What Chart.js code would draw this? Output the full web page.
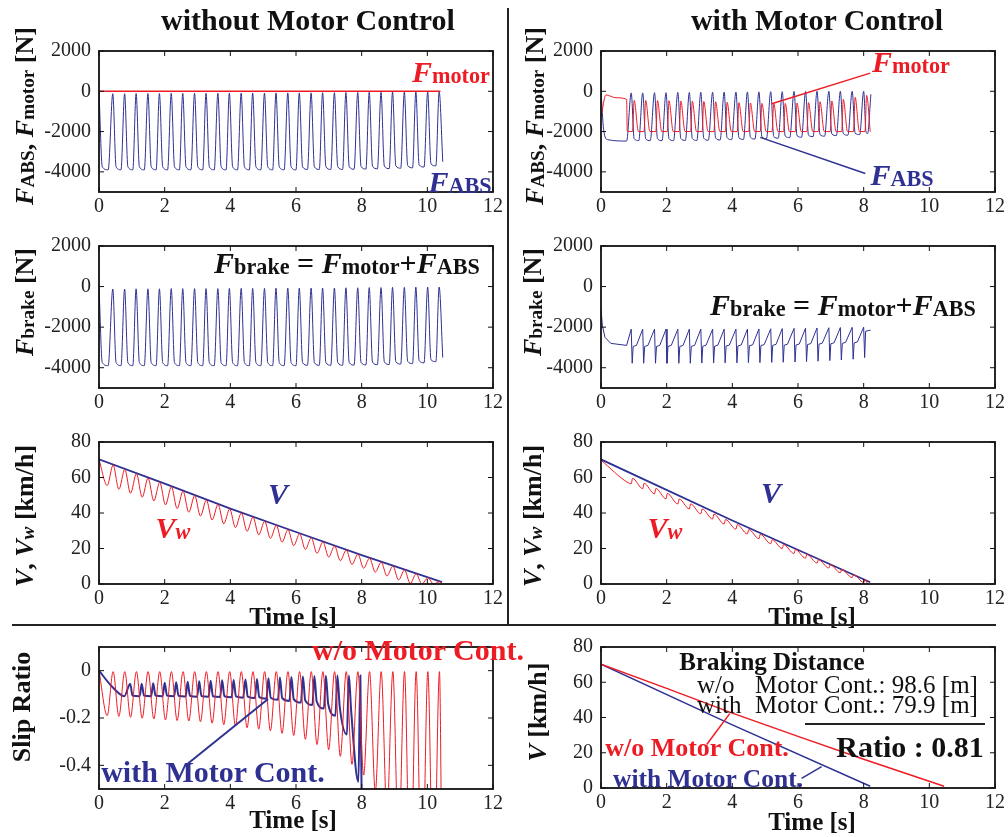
<!DOCTYPE html>
<html>
<head>
<meta charset="utf-8">
<script src="https://cdn.jsdelivr.net/npm/chart.js@4.4.1/dist/chart.umd.min.js"></script>
<style>
body { margin: 0; width: 1008px; height: 837px; position: relative; overflow: hidden; background: #fff;
       font-family: "Liberation Serif", "Times New Roman", serif; color: #111; }
canvas { position: absolute; }
.t { position: absolute; white-space: nowrap; font-weight: bold; line-height: 1; z-index: 2; }
.n { font-weight: normal; }
.c { transform: translate(-50%, -50%); }
.r { transform: translate(-50%, -50%) rotate(-90deg); }
.t i { font-style: italic; }
.t sub { font-size: 0.74em; vertical-align: -0.04em; }
.red { color: #ed1c24; }
.blue { color: #2e3192; }
.rule { position: absolute; background: #222; z-index: 3; }
</style>
</head>
<body>

<!-- column headings and separators -->
<div class="t c" style="left:308px;top:20px;font-size:30px">without Motor Control</div>
<div class="t c" style="left:817px;top:20px;font-size:30px">with Motor Control</div>
<div class="rule" style="left:507px;top:8px;width:2px;height:618px"></div>
<div class="rule" style="left:12px;top:624px;width:984px;height:2px"></div>

<!-- y axis titles -->
<div class="t r" style="left:25px;top:116px;font-size:26px"><i>F</i><sub>ABS</sub>, <i>F</i><sub>motor</sub> [N]</div>
<div class="t r" style="left:535px;top:116px;font-size:26px"><i>F</i><sub>ABS</sub>, <i>F</i><sub>motor</sub> [N]</div>
<div class="t r" style="left:25px;top:302px;font-size:26px"><i>F</i><sub>brake</sub> [N]</div>
<div class="t r" style="left:533px;top:302px;font-size:26px"><i>F</i><sub>brake</sub> [N]</div>
<div class="t r" style="left:25px;top:516px;font-size:26px"><i>V</i>, <i>V<sub>w</sub></i> [km/h]</div>
<div class="t r" style="left:533px;top:516px;font-size:26px"><i>V</i>, <i>V<sub>w</sub></i> [km/h]</div>
<div class="t r" style="left:22px;top:707px;font-size:26px">Slip Ratio</div>
<div class="t r" style="left:538px;top:712px;font-size:26px"><i>V</i> [km/h]</div>

<!-- x axis titles -->
<div class="t c" style="left:293px;top:616px;font-size:25px">Time [s]</div>
<div class="t c" style="left:812px;top:616px;font-size:25px">Time [s]</div>
<div class="t c" style="left:293px;top:819px;font-size:25px">Time [s]</div>
<div class="t c" style="left:812px;top:821px;font-size:25px">Time [s]</div>

<!-- force panels -->
<div class="t c red" style="left:451px;top:72px;font-size:30px"><i>F</i><sub>motor</sub></div>
<div class="t c blue" style="left:460px;top:182px;font-size:30px"><i>F</i><sub>ABS</sub></div>
<div class="t c red" style="left:911px;top:62px;font-size:30px"><i>F</i><sub>motor</sub></div>
<div class="t c blue" style="left:902px;top:175px;font-size:30px"><i>F</i><sub>ABS</sub></div>
<div class="t c" style="left:347px;top:263px;font-size:30px"><i>F</i><sub>brake</sub> = <i>F</i><sub>motor</sub>+<i>F</i><sub>ABS</sub></div>
<div class="t c" style="left:843px;top:305px;font-size:30px"><i>F</i><sub>brake</sub> = <i>F</i><sub>motor</sub>+<i>F</i><sub>ABS</sub></div>

<!-- speed panels -->
<div class="t c blue" style="left:278px;top:494px;font-size:30px"><i>V</i></div>
<div class="t c red" style="left:173px;top:528px;font-size:30px"><i>V<sub>w</sub></i></div>
<div class="t c blue" style="left:771px;top:493px;font-size:30px"><i>V</i></div>
<div class="t c red" style="left:665px;top:528px;font-size:30px"><i>V<sub>w</sub></i></div>

<!-- slip panel -->
<div class="t c red" style="left:418px;top:650px;font-size:30px">w/o Motor Cont.</div>
<div class="t c blue" style="left:213px;top:772px;font-size:30px">with Motor Cont.</div>

<!-- braking distance panel -->
<div class="t c" style="left:772px;top:661px;font-size:25px">Braking Distance</div>
<div class="t n" style="left:697px;top:672px;font-size:25px">w/o</div>
<div class="t n" style="left:755px;top:672px;font-size:25px">Motor Cont.: 98.6 [m]</div>
<div class="t n" style="left:697px;top:692px;font-size:25px">with</div>
<div class="t n" style="left:755px;top:692px;font-size:25px">Motor Cont.: 79.9 [m]</div>
<div class="rule" style="left:805px;top:723px;width:180px;height:2px"></div>
<div class="t c" style="left:910px;top:747px;font-size:30px">Ratio : 0.81</div>
<div class="t c red" style="left:697px;top:748px;font-size:26px">w/o Motor Cont.</div>
<div class="t c blue" style="left:708px;top:779px;font-size:25.5px">with Motor Cont.</div>

<script>
// ---- axes ----
const xTicks = [0, 2, 4, 6, 8, 10, 12];
const forceTicks = [-4000, -2000, 0, 2000];
const speedTicks = [0, 20, 40, 60, 80];
const slipTicks = [-0.4, -0.2, 0];

// ---- without motor control ----
// ABS force [N] (equals brake force, motor force is zero)
const tAbs0 = [0, 0.10, 0.28,
  0.42, 0.52, 0.67, 0.78, 0.88, 1.03, 1.13, 1.23, 1.38, 1.49, 1.59, 1.74,
  1.84, 1.94, 2.09, 2.20, 2.30, 2.45, 2.55, 2.65, 2.80, 2.91, 3.01, 3.16,
  3.26, 3.36, 3.51, 3.62, 3.72, 3.87, 3.97, 4.07, 4.22, 4.33, 4.43, 4.58,
  4.68, 4.78, 4.93, 5.04, 5.14, 5.29, 5.39, 5.49, 5.64, 5.75, 5.85, 6.00,
  6.10, 6.20, 6.35, 6.46, 6.56, 6.71, 6.81, 6.91, 7.06, 7.17, 7.27, 7.42,
  7.52, 7.62, 7.77, 7.88, 7.98, 8.13, 8.23, 8.33, 8.48, 8.59, 8.69, 8.84,
  8.94, 9.04, 9.19, 9.30, 9.40, 9.55, 9.65, 9.75, 9.90, 10.01, 10.11, 10.26,
  10.36, 10.47];
const fAbs0 = [0, -3750, -3900,
  -120, -3750, -3900, -120, -3750, -3900, -110, -3750, -3900, -110, -3750, -3900,
  -110, -3750, -3900, -100, -3750, -3900, -100, -3750, -3900, -100, -3750, -3900,
  -100, -3750, -3900, -100, -3750, -3900, -90, -3750, -3900, -90, -3750, -3900,
  -90, -3750, -3900, -90, -3750, -3900, -80, -3750, -3900, -80, -3750, -3900,
  -80, -3750, -3880, -80, -3750, -3880, -70, -3740, -3880, -70, -3740, -3880,
  -60, -3740, -3870, -60, -3730, -3860, -50, -3720, -3850, -50, -3710, -3840,
  -40, -3700, -3820, -40, -3680, -3800, -30, -3650, -3760, -30, -3600, -3700,
  -20, -3500];
const tMot0 = [0, 10.40];
const fMot0 = [0, 0];

// vehicle speed and wheel speed [km/h]
const tV0 = [0, 2, 4, 6, 8, 10.45];
const v0 = [70.2, 56.5, 42.5, 29.3, 16.3, 1.0];
const tWheel0 = [0, 0.25, 0.43, 0.605, 0.785, 0.96, 1.14, 1.315, 1.495, 1.67, 1.85,
  2.025, 2.205, 2.38, 2.56, 2.735, 2.915, 3.09, 3.27, 3.445, 3.625, 3.80, 3.98,
  4.155, 4.335, 4.51, 4.69, 4.865, 5.045, 5.22, 5.40, 5.575, 5.755, 5.93, 6.11,
  6.285, 6.465, 6.64, 6.82, 6.995, 7.175, 7.35, 7.53, 7.705, 7.885, 8.06, 8.24,
  8.415, 8.595, 8.77, 8.95, 9.125, 9.305, 9.48, 9.66, 9.835, 10.015, 10.19, 10.37, 10.45];
const vw0 = [70.2, 55.5, 67.0, 53.3, 64.5, 51.1, 62.1, 48.9, 59.7, 46.8, 57.2,
  44.6, 54.8, 42.5, 52.3, 40.4, 49.8, 38.3, 47.3, 36.1, 44.8, 33.9, 42.3,
  31.8, 40.0, 29.7, 37.7, 27.7, 35.3, 25.7, 33.0, 23.6, 30.6, 21.6, 28.3,
  19.5, 26.0, 17.3, 23.7, 15.2, 21.4, 13.1, 19.1, 11.0, 16.8, 8.9, 14.5,
  6.7, 12.3, 4.5, 10.1, 2.3, 7.9, 0.3, 5.7, 0, 3.5, 0, 1.3, 0.3];
const slip0 = [0, -0.19, -0.004, -0.193, -0.004, -0.197, -0.004, -0.201, -0.004, -0.204, -0.004,
  -0.208, -0.004, -0.211, -0.004, -0.213, -0.004, -0.216, -0.004, -0.222, -0.004, -0.228, -0.004,
  -0.233, -0.004, -0.241, -0.004, -0.247, -0.004, -0.254, -0.004, -0.265, -0.004, -0.274, -0.004,
  -0.29, -0.004, -0.312, -0.004, -0.334, -0.004, -0.362, -0.004, -0.396, -0.004, -0.441, -0.004,
  -0.512, -0.004, -0.609, -0.004, -0.753, -0.004, -0.958, -0.004, -1, -0.004, -1, -0.004, -1];

// ---- with motor control ----
const tAbs1 = [0, 0.08, 0.20, 0.78,
  0.92, 1.01, 1.15, 1.27, 1.36, 1.50, 1.63, 1.72, 1.86, 1.98, 2.07, 2.21,
  2.34, 2.43, 2.57, 2.69, 2.78, 2.92, 3.04, 3.13, 3.27, 3.40, 3.49, 3.63,
  3.75, 3.84, 3.98, 4.11, 4.20, 4.34, 4.46, 4.55, 4.69, 4.81, 4.90, 5.04,
  5.17, 5.26, 5.40, 5.52, 5.61, 5.75, 5.88, 5.97, 6.11, 6.23, 6.32, 6.46,
  6.58, 6.67, 6.81, 6.94, 7.03, 7.17, 7.29, 7.38, 7.52, 7.65, 7.74, 7.88,
  8.00, 8.07, 8.12, 8.22];
const fAbs1 = [0, -1900, -2400, -2470,
  -80, -2350, -2450, -80, -2350, -2450, -70, -2350, -2450, -70, -2350, -2450,
  -60, -2340, -2440, -60, -2340, -2440, -50, -2330, -2430, -50, -2320, -2420,
  -40, -2300, -2400, -40, -2300, -2390, -30, -2280, -2370, -30, -2260, -2350,
  -20, -2240, -2330, -20, -2220, -2300, -10, -2200, -2280, -10, -2180, -2250,
  0, -2150, -2230, 0, -2120, -2200, 0, -2100, -2180, 0, -2080, -2150,
  0, -2000, -2100, -150];
const tMot1 = [0, 0.15, 0.45, 0.78, 0.80,
  0.96, 1.01, 1.14, 1.31, 1.36, 1.49, 1.67, 1.72, 1.85, 2.02, 2.07, 2.20,
  2.38, 2.43, 2.56, 2.73, 2.78, 2.91, 3.08, 3.13, 3.26, 3.44, 3.49, 3.62,
  3.79, 3.84, 3.97, 4.15, 4.20, 4.33, 4.50, 4.55, 4.68, 4.85, 4.90, 5.03,
  5.21, 5.26, 5.39, 5.56, 5.61, 5.74, 5.92, 5.97, 6.10, 6.27, 6.32, 6.45,
  6.62, 6.67, 6.80, 6.98, 7.03, 7.16, 7.33, 7.38, 7.51, 7.69, 7.74, 7.87,
  8.04, 8.09, 8.20];
const fMot1 = [-1300, -180, -320, -400, -1980,
  -2000, -450, -2000, -2000, -450, -2000, -2000, -460, -2000, -2000, -470, -2000,
  -2000, -480, -2000, -2000, -490, -2000, -2000, -500, -2000, -2000, -520, -2000,
  -2000, -540, -2000, -2000, -560, -2000, -2000, -580, -2000, -2000, -600, -2000,
  -2000, -600, -2000, -2000, -600, -2000, -2000, -580, -2000, -2000, -560, -2000,
  -2000, -520, -2000, -2000, -480, -2000, -2000, -400, -2000, -2000, -300, -2000,
  -2000, -200, -2000];
const tBrk1 = [0, 0.04, 0.12, 0.30, 0.78,
  0.92, 0.95, 0.98, 1.08, 1.27, 1.30, 1.33, 1.43, 1.63, 1.66, 1.69, 1.79,
  1.98, 2.01, 2.04, 2.14, 2.34, 2.37, 2.40, 2.50, 2.69, 2.72, 2.75, 2.85,
  3.04, 3.07, 3.10, 3.20, 3.40, 3.43, 3.46, 3.56, 3.75, 3.78, 3.81, 3.91,
  4.11, 4.14, 4.17, 4.27, 4.46, 4.49, 4.52, 4.62, 4.81, 4.84, 4.87, 4.97,
  5.17, 5.20, 5.23, 5.33, 5.52, 5.55, 5.58, 5.68, 5.88, 5.91, 5.94, 6.04,
  6.23, 6.26, 6.29, 6.39, 6.58, 6.61, 6.64, 6.74, 6.94, 6.97, 7.00, 7.10,
  7.29, 7.32, 7.35, 7.45, 7.65, 7.68, 7.71, 7.81, 8.00, 8.03, 8.06, 8.21];
const fBrk1 = [-1100, -1900, -2500, -2800, -2900,
  -2100, -3780, -2950, -2900, -2100, -3780, -2950, -2900, -2100, -3780, -2950, -2900,
  -2100, -3780, -2950, -2900, -2100, -3780, -2950, -2900, -2100, -3780, -2950, -2900,
  -2100, -3770, -2940, -2890, -2100, -3770, -2940, -2890, -2100, -3760, -2930, -2880,
  -2100, -3760, -2930, -2880, -2100, -3750, -2920, -2870, -2090, -3750, -2910, -2860,
  -2080, -3740, -2900, -2850, -2070, -3730, -2890, -2840, -2060, -3720, -2880, -2830,
  -2050, -3700, -2860, -2810, -2040, -3680, -2840, -2790, -2030, -3650, -2820, -2770,
  -2020, -3620, -2800, -2750, -2010, -3580, -2780, -2730, -2000, -3500, -2200, -2150];

const tV1 = [0, 4, 8.2];
const v1 = [70.2, 35.8, 1.0];
const tWheel1 = [0, 0.83, 0.92, 0.96, 1.27, 1.31, 1.63, 1.67, 1.98, 2.02, 2.34, 2.38,
  2.69, 2.73, 3.04, 3.08, 3.40, 3.44, 3.75, 3.79, 4.11, 4.15, 4.46, 4.50, 4.81, 4.85,
  5.17, 5.21, 5.52, 5.56, 5.88, 5.92, 6.23, 6.27, 6.58, 6.62, 6.94, 6.98, 7.29, 7.33,
  7.65, 7.69, 8.00, 8.04, 8.12];
const vw1 = [69.8, 57.0, 56.5, 59.5, 53.7, 56.7, 50.8, 53.8, 48.0, 51.0, 45.1, 47.9,
  42.3, 45.1, 39.5, 42.3, 36.6, 39.4, 33.8, 36.3, 30.9, 33.4, 28.2, 30.7, 25.5, 28.0,
  22.7, 24.9, 20.0, 22.2, 17.2, 19.4, 14.5, 16.7, 11.8, 13.7, 9.0, 10.9, 6.3, 8.2,
  3.6, 5.2, 0.9, 2.5, 0];
const tSlip1 = [0, 0.40, 0.77,
  0.95, 1.02, 1.24, 1.30, 1.37, 1.59, 1.65, 1.72, 1.94, 2.00, 2.07, 2.29,
  2.35, 2.42, 2.64, 2.70, 2.77, 2.99, 3.05, 3.12, 3.34, 3.40, 3.47, 3.69,
  3.75, 3.82, 4.04, 4.10, 4.17, 4.39, 4.46, 4.53, 4.75, 4.81, 4.88, 5.10,
  5.16, 5.23, 5.45, 5.51, 5.58, 5.80, 5.86, 5.93, 6.15, 6.21, 6.28, 6.50,
  6.56, 6.63, 6.85, 6.91, 6.98, 7.20, 7.26, 7.33, 7.55, 7.61, 7.68, 7.90,
  7.96, 8.02];
const slip1 = [0, -0.068, -0.108,
  -0.055, -0.105, -0.108, -0.055, -0.105, -0.108, -0.053, -0.105, -0.108, -0.051, -0.105, -0.108,
  -0.049, -0.106, -0.109, -0.047, -0.106, -0.110, -0.045, -0.107, -0.110, -0.043, -0.108, -0.111,
  -0.041, -0.108, -0.112, -0.039, -0.109, -0.114, -0.037, -0.110, -0.116, -0.035, -0.112, -0.119,
  -0.032, -0.114, -0.123, -0.029, -0.116, -0.128, -0.027, -0.120, -0.135, -0.025, -0.125, -0.145,
  -0.023, -0.130, -0.160, -0.021, -0.140, -0.190, -0.020, -0.150, -0.270, -0.020, -0.170, -0.470,
  -0.020, -0.900];

const RED = '#ed1c24';
const BLUE = '#2e3192';

Chart.defaults.font.family = '"Liberation Serif", "Times New Roman", serif';
Chart.defaults.font.size = 20;
Chart.defaults.color = '#222';

function series(ts, vs, color, width, smooth) {
  return {
    data: ts.map((t, i) => ({ x: t, y: vs[i] })),
    borderColor: color,
    borderWidth: width,
    pointRadius: 0,
    fill: false,
    tension: 0,
    cubicInterpolationMode: smooth ? 'monotone' : 'default'
  };
}

// box with inward ticks on all four sides + optional leader lines (data units)
function frame(leaders) {
  return {
    id: 'frame',
    afterDatasetsDraw(chart) {
      const { ctx, chartArea: a, scales: { x, y } } = chart;
      ctx.save();
      (leaders || []).forEach(l => {
        ctx.strokeStyle = l.color;
        ctx.lineWidth = l.width || 1.5;
        ctx.beginPath();
        ctx.moveTo(x.getPixelForValue(l.from[0]), y.getPixelForValue(l.from[1]));
        ctx.lineTo(x.getPixelForValue(l.to[0]), y.getPixelForValue(l.to[1]));
        ctx.stroke();
      });
      ctx.strokeStyle = '#111';
      ctx.lineWidth = 1;
      ctx.beginPath();
      x.ticks.forEach(t => {
        const px = x.getPixelForValue(t.value);
        ctx.moveTo(px, a.bottom); ctx.lineTo(px, a.bottom - 5);
        ctx.moveTo(px, a.top); ctx.lineTo(px, a.top + 5);
      });
      y.ticks.forEach(t => {
        const py = y.getPixelForValue(t.value);
        ctx.moveTo(a.left, py); ctx.lineTo(a.left + 5, py);
        ctx.moveTo(a.right, py); ctx.lineTo(a.right - 5, py);
      });
      ctx.stroke();
      ctx.lineWidth = 1.8;
      ctx.strokeRect(a.left, a.top, a.width, a.height);
      ctx.restore();
    }
  };
}

function panel(box, yMin, yMax, yTicks, datasets, leaders) {
  const padL = 95, padT = 14, padR = 16, padB = 32;
  const cv = document.createElement('canvas');
  cv.width = box.r - box.l + padL + padR;
  cv.height = box.b - box.t + padT + padB;
  cv.style.left = (box.l - padL) + 'px';
  cv.style.top = (box.t - padT) + 'px';
  document.body.appendChild(cv);
  return new Chart(cv, {
    type: 'line',
    data: { datasets },
    options: {
      responsive: false,
      animation: false,
      devicePixelRatio: 1,
      layout: { padding: { left: 0, top: padT, right: padR, bottom: 0 } },
      plugins: { legend: { display: false }, tooltip: { enabled: false } },
      scales: {
        x: {
          type: 'linear', min: 0, max: 12,
          afterFit: s => { s.height = padB; },
          afterBuildTicks: s => { s.ticks = xTicks.map(v => ({ value: v })); },
          grid: { display: false, drawTicks: false, tickLength: 0 }, border: { display: false },
          ticks: { padding: 3, maxRotation: 0, autoSkip: false, callback: v => String(v) }
        },
        y: {
          type: 'linear', min: yMin, max: yMax,
          afterFit: s => { s.width = padL; },
          afterBuildTicks: s => { s.ticks = yTicks.map(v => ({ value: v })); },
          grid: { display: false, drawTicks: false, tickLength: 0 }, border: { display: false },
          ticks: { padding: 8, autoSkip: false, callback: v => String(v) }
        }
      }
    },
    plugins: [frame(leaders)]
  });
}

// top row: ABS and motor force
panel({ l: 99, t: 45, r: 493, b: 192 }, -5000, 2000, forceTicks, [
  series(tMot0, fMot0, RED, 1.5, false),
  series(tAbs0, fAbs0, BLUE, 1, true)
]);
panel({ l: 601, t: 45, r: 995, b: 192 }, -5000, 2000, forceTicks, [
  series(tMot1, fMot1, RED, 1, true),
  series(tAbs1, fAbs1, BLUE, 1, true)
], [
  { from: [5.2, -620], to: [8.2, 900], color: RED },
  { from: [4.85, -2290], to: [8.05, -4080], color: BLUE }
]);

// second row: total brake force
panel({ l: 99, t: 240, r: 493, b: 388 }, -5000, 2000, forceTicks, [
  series(tAbs0, fAbs0, BLUE, 1, true)
]);
panel({ l: 601, t: 240, r: 995, b: 388 }, -5000, 2000, forceTicks, [
  series(tBrk1, fBrk1, BLUE, 1, false)
]);

// third row: vehicle and wheel speed
panel({ l: 99, t: 436, r: 493, b: 584 }, 0, 80, speedTicks, [
  series(tWheel0, vw0, RED, 1, true),
  series(tV0, v0, BLUE, 1.8, false)
]);
panel({ l: 601, t: 436, r: 995, b: 584 }, 0, 80, speedTicks, [
  series(tWheel1, vw1, RED, 1, true),
  series(tV1, v1, BLUE, 1.8, false)
]);

// bottom row: slip ratio and speed comparison
panel({ l: 99, t: 641, r: 493, b: 789 }, -0.5, 0.1, slipTicks, [
  series(tWheel0, slip0, RED, 1, true),
  series(tSlip1, slip1, BLUE, 2, true)
], [
  { from: [2.71, -0.392], to: [5.15, -0.12], color: BLUE, width: 2 }
]);
panel({ l: 601, t: 641, r: 995, b: 788 }, 0, 80, speedTicks, [
  series(tV0, v0, RED, 1.5, false),
  series(tV1, v1, BLUE, 1.5, false)
], [
  { from: [3.22, 24.7], to: [3.92, 42.2], color: RED },
  { from: [6.11, 5.5], to: [6.72, 12.1], color: BLUE }
]);
</script>
</body>
</html>
